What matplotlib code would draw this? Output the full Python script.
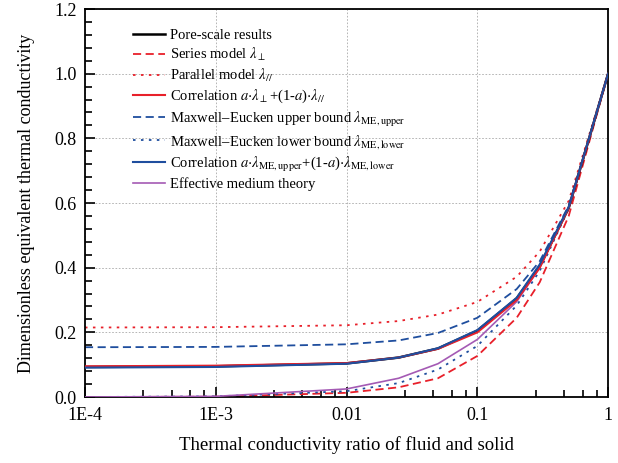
import numpy as np
import matplotlib
matplotlib.use('Agg')
import matplotlib.pyplot as plt
from matplotlib.ticker import FixedLocator, NullFormatter

plt.rcParams['font.family'] = ['Liberation Serif', 'DejaVu Serif']
plt.rcParams['mathtext.fontset'] = 'stix'

# 유체/고체 열전도도 비
ratio = [1e-4, 1e-3, 0.01, 0.025, 0.05, 0.1, 0.2, 0.3, 0.5, 1.0]

pore_scale   = [0.093, 0.095, 0.104, 0.122, 0.150, 0.205, 0.305, 0.405, 0.585, 1.0]
series       = [0.000, 0.001, 0.013, 0.030, 0.058, 0.127, 0.245, 0.355, 0.560, 1.0]
parallel     = [0.215, 0.216, 0.222, 0.235, 0.255, 0.294, 0.372, 0.450, 0.607, 1.0]
corr_sp      = [0.095, 0.097, 0.105, 0.122, 0.149, 0.200, 0.300, 0.400, 0.585, 1.0]
me_upper     = [0.154, 0.155, 0.163, 0.175, 0.198, 0.245, 0.334, 0.420, 0.592, 1.0]
me_lower     = [0.000, 0.002, 0.018, 0.043, 0.085, 0.158, 0.283, 0.390, 0.583, 1.0]
corr_me      = [0.091, 0.093, 0.103, 0.122, 0.151, 0.207, 0.307, 0.410, 0.588, 1.0]
emt          = [0.000, 0.002, 0.025, 0.058, 0.103, 0.178, 0.295, 0.400, 0.587, 1.0]

x_major = [1e-4, 1e-3, 1e-2, 1e-1, 1.0]
x_labels = ['1E-4', '1E-3', '0.01', '0.1', '1']

RED = '#E8202A'
BLUE = '#1F4E9E'
PURPLE = '#A45AB4'

fig = plt.figure(figsize=(6.18, 4.63), dpi=100)
ax = fig.add_axes([0.1375, 0.1425, 0.8465, 0.838])

lw = 1.3
ax.plot(ratio, pore_scale, color='black', lw=1.8, label='Pore-scale results', zorder=5)
ax.plot(ratio, series, color=RED, lw=lw, dashes=(4.5, 2.5),
        label=r'Series model $\lambda_{\perp}$')
ax.plot(ratio, parallel, color=RED, lw=lw, dashes=(1.4, 3.0),
        label=r'Parallel model $\lambda_{//}$')
ax.plot(ratio, corr_sp, color=RED, lw=1.5, zorder=6,
        label=r'Correlation $a{\cdot}\lambda_{\perp}$+(1-$a$)$\cdot\lambda_{//}$')
ax.plot(ratio, me_upper, color=BLUE, lw=lw, dashes=(4.5, 2.5),
        label=r'Maxwell–Eucken upper bound $\lambda_{\mathrm{ME,upper}}$')
ax.plot(ratio, me_lower, color=BLUE, lw=lw, dashes=(1.4, 3.0),
        label=r'Maxwell–Eucken lower bound $\lambda_{\mathrm{ME,lower}}$')
ax.plot(ratio, corr_me, color=BLUE, lw=1.5, zorder=6,
        label=r'Correlation $a{\cdot}\lambda_{\mathrm{ME,upper}}$+(1-$a$)$\cdot\lambda_{\mathrm{ME,lower}}$')
ax.plot(ratio, emt, color=PURPLE, lw=1.2, label='Effective medium theory', zorder=4)

ax.set_xscale('log')
ax.set_xlim(1e-4, 1)
ax.set_ylim(0, 1.2)

ax.xaxis.set_major_locator(FixedLocator(x_major))
ax.set_xticklabels(x_labels)
# 10진 구간을 선형으로 5등분한 보조 눈금
minor = [d * m for d in [1e-4, 1e-3, 1e-2, 1e-1] for m in (2.8, 4.6, 6.4, 8.2)]
ax.xaxis.set_minor_locator(FixedLocator(minor))
ax.xaxis.set_minor_formatter(NullFormatter())

ax.set_yticks(np.arange(0, 1.21, 0.2))
ax.set_yticklabels([f'{v:.1f}' for v in np.arange(0, 1.21, 0.2)])
ax.set_yticks(np.arange(0, 1.21, 0.04), minor=True)

ax.tick_params(which='both', direction='in', top=False, right=False,
               labelsize=13, width=1.2)
ax.tick_params(which='major', length=7)
ax.tick_params(which='minor', length=5)
ax.tick_params(axis='x', pad=7)
ax.tick_params(axis='y', pad=6)

for s in ax.spines.values():
    s.set_linewidth(1.3)

ax.grid(which='major', color='#AAAAAA', linestyle=(0, (2, 2)), linewidth=0.6)
ax.set_axisbelow(True)

ax.set_xlabel('Thermal conductivity ratio of fluid and solid', fontsize=13.5, labelpad=9)
ax.set_ylabel('Dimensionless equivalent thermal conductivity', fontsize=13, labelpad=14)

ax.legend(loc='upper left', bbox_to_anchor=(0.08, 0.965), frameon=False,
          fontsize=10.5, handlelength=2.2, handletextpad=0.35,
          labelspacing=0.28, borderaxespad=0)

plt.savefig('out.png', dpi=100)
plt.close()
